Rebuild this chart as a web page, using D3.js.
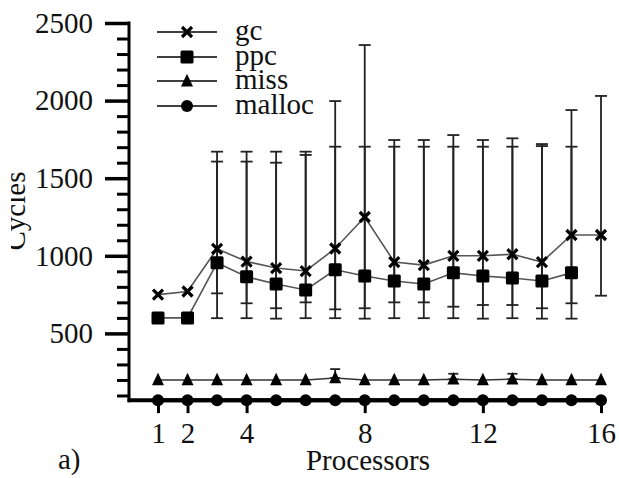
<!DOCTYPE html>
<html>
<head>
<meta charset="utf-8">
<script src="https://cdn.jsdelivr.net/npm/d3@7"></script>
<style>
  html, body { margin: 0; padding: 0; background: #fff; }
  svg { display: block; }
</style>
</head>
<body>
<div id="chart"></div>
<script>
// ---- data ----
const processors = [1, 2, 3, 4, 5, 6, 7, 8, 9, 10, 11, 12, 13, 14, 15, 16];
const gc     = [750, 770, 1045, 963, 921, 902, 1047, 1250, 960, 940, 1000, 1000, 1010, 960, 1134, 1134];
const gcHi   = [null, null, 1671, 1671, 1671, 1671, 1997, 2358, 1746, 1746, 1778, 1746, 1757, 1720, 1939, 2030];
const gcLo   = [null, null, 758, 694, 662, 700, 655, 662, 700, 700, 672, 683, 683, 662, 694, 743];
const ppc    = [600, 600, 955, 865, 818, 780, 910, 870, 838, 818, 890, 870, 857, 838, 890];
const ppcHi  = [null, null, 1607, 1607, 1600, 1650, 1703, 1703, 1703, 1703, 1703, 1703, 1703, 1707, 1703];
const ppcLo  = [null, null, 598, 598, 595, 598, 598, 595, 598, 598, 598, 595, 598, 595, 595];
const miss   = [200, 200, 200, 200, 200, 200, 213, 200, 200, 200, 205, 200, 205, 200, 200, 200];
const missHi = [null, null, null, null, null, null, 270, null, null, null, 240, null, 240, null, null, null];
const malloc = [70, 70, 70, 70, 70, 70, 70, 70, 70, 70, 70, 70, 70, 70, 70, 70];
const xTicks = [1, 2, 4, 8, 12, 16];
const yMajor = [500, 1000, 1500, 2000, 2500];
const yMinor = d3.range(100, 2500, 100).filter(v => v % 500 !== 0);
const seriesNames = ["gc", "ppc", "miss", "malloc"];

// ---- pick an installed serif face ----
function pickFont(cands) {
  const c = document.createElement("canvas").getContext("2d");
  const probe = "Processors 1234567890 gcppcmissmalloc";
  for (const f of cands) {
    let differs = false;
    for (const fb of ["monospace", "sans-serif"]) {
      c.font = `40px ${fb}`; const w0 = c.measureText(probe).width;
      c.font = `40px "${f}", ${fb}`; const w1 = c.measureText(probe).width;
      if (Math.abs(w0 - w1) > 0.5) differs = true; else { differs = false; break; }
    }
    if (differs) return `"${f}"`;
  }
  return "serif";
}
const FONT = pickFont(["Liberation Serif", "Times New Roman", "Tinos", "Times", "DejaVu Serif", "Noto Serif", "FreeSerif"]);

// ---- layout ----
const W = 619, H = 478;
const yBase = 70;                       // value where the x axis sits
const x = d3.scaleLinear().domain([1, 16]).range([158, 601]);
const y = d3.scaleLinear().domain([0, 2500]).range([411, 23]);
const FS = 29;

const svg = d3.select("#chart").append("svg").attr("width", W).attr("height", H)
  .style("font-family", FONT);

// y axis: minor ticks
const axisX = 129;
const gMinor = svg.append("g").attr("transform", `translate(${axisX},0)`)
  .call(d3.axisLeft(y).tickValues(yMinor).tickSize(12).tickFormat(""));
gMinor.select(".domain").remove();
gMinor.selectAll(".tick line").attr("stroke", "#000").attr("stroke-width", 3);

const gMajor = svg.append("g").attr("transform", `translate(${axisX},0)`)
  .call(d3.axisLeft(y).tickValues(yMajor).tickSize(24).tickPadding(12).tickFormat(d3.format("d")));
gMajor.attr("font-family", null).attr("font-size", null);
gMajor.select(".domain").remove();
gMajor.selectAll(".tick line").attr("stroke", "#000").attr("stroke-width", 3.5);
gMajor.selectAll(".tick text").style("font-family", FONT).attr("font-size", FS).attr("fill", "#111");

svg.append("line").attr("x1", axisX).attr("x2", axisX)
  .attr("y1", y(2500) - 1.5).attr("y2", y(yBase) + 2)
  .attr("stroke", "#000").attr("stroke-width", 3);

// x axis
const gX = svg.append("g").attr("transform", `translate(0,${y(yBase)})`)
  .call(d3.axisBottom(x).tickValues(xTicks).tickSize(13).tickFormat(d3.format("d")));
gX.attr("font-family", null).attr("font-size", null);
gX.select(".domain").remove();
gX.selectAll(".tick line").attr("stroke", "#000").attr("stroke-width", 3);
gX.selectAll(".tick text").style("font-family", FONT).attr("font-size", FS)
  .attr("fill", "#111").attr("y", 43).attr("dy", 0);

svg.append("line").attr("x1", axisX - 1.5).attr("x2", x(16) + 2)
  .attr("y1", y(yBase)).attr("y2", y(yBase))
  .attr("stroke", "#000").attr("stroke-width", 4);

// axis titles
svg.append("text").attr("x", 368).attr("y", 470).attr("text-anchor", "middle")
  .attr("font-size", FS).attr("fill", "#111").text("Processors");
svg.append("text").attr("x", 58).attr("y", 469).attr("font-size", FS).attr("fill", "#111").text("a)");
svg.append("clipPath").attr("id", "leftclip").append("rect")
  .attr("x", 11).attr("y", 0).attr("width", 100).attr("height", H);
svg.append("g").attr("clip-path", "url(#leftclip)")
  .append("text").attr("transform", "translate(25,211) rotate(-90)")
  .attr("text-anchor", "middle").attr("font-size", FS).attr("fill", "#111").text("Cycles");

// marker helpers
function cross(g, cx, cy, r) {
  g.append("path").attr("d", `M${cx - r},${cy - r}L${cx + r},${cy + r}M${cx - r},${cy + r}L${cx + r},${cy - r}`)
    .attr("stroke", "#000").attr("stroke-width", 3.2).attr("fill", "none");
}
function square(g, cx, cy, s) {
  g.append("rect").attr("x", cx - s / 2).attr("y", cy - s / 2).attr("width", s).attr("height", s)
    .attr("rx", 1.5).attr("fill", "#000");
}
function tri(g, cx, cy, s) {
  g.append("path").attr("d", `M${cx},${cy - s * 0.6}L${cx + s / 2},${cy + s * 0.45}L${cx - s / 2},${cy + s * 0.45}Z`)
    .attr("fill", "#000");
}
function dot(g, cx, cy, r) {
  g.append("circle").attr("cx", cx).attr("cy", cy).attr("r", r).attr("fill", "#000");
}

// error bars
const gErr = svg.append("g");
function errBar(xi, lo, hi, capW) {
  if (lo == null || hi == null) return;
  const px = x(xi);
  gErr.append("line").attr("x1", px).attr("x2", px).attr("y1", y(lo)).attr("y2", y(hi))
    .attr("stroke", "#222").attr("stroke-width", 1.8);
  [lo, hi].forEach(v => gErr.append("line").attr("x1", px - capW / 2).attr("x2", px + capW / 2)
    .attr("y1", y(v)).attr("y2", y(v)).attr("stroke", "#222").attr("stroke-width", 1.8));
}
processors.forEach((p, i) => {
  errBar(p, gcLo[i], gcHi[i], 12);
  if (i < ppc.length) errBar(p, ppcLo[i], ppcHi[i], 12);
  if (missHi[i] != null) errBar(p, miss[i], missHi[i], 10);
});

// lines
const line = d3.line().x(d => x(d[0])).y(d => y(d[1]));
const gcPts = processors.map((p, i) => [p, gc[i]]);
const ppcPts = ppc.map((v, i) => [processors[i], v]);
const missPts = processors.map((p, i) => [p, miss[i]]);
const mallocPts = processors.map((p, i) => [p, malloc[i]]);
svg.append("path").attr("d", line(gcPts)).attr("fill", "none").attr("stroke", "#555").attr("stroke-width", 1.6);
svg.append("path").attr("d", line(ppcPts)).attr("fill", "none").attr("stroke", "#555").attr("stroke-width", 1.6);
svg.append("path").attr("d", line(missPts)).attr("fill", "none").attr("stroke", "#333").attr("stroke-width", 1.5);
svg.append("path").attr("d", line(mallocPts)).attr("fill", "none").attr("stroke", "#000").attr("stroke-width", 4);

// markers
const gM = svg.append("g");
gcPts.forEach(d => cross(gM, x(d[0]), y(d[1]), 5));
ppcPts.forEach(d => square(gM, x(d[0]), y(d[1]), 13));
missPts.forEach(d => tri(gM, x(d[0]), y(d[1]), 12));
mallocPts.forEach(d => dot(gM, x(d[0]), y(d[1]), 6));

// legend
const legY = [32, 57, 81, 106];
const gL = svg.append("g");
seriesNames.forEach((name, i) => {
  const cy = legY[i];
  gL.append("line").attr("x1", 157).attr("x2", 217).attr("y1", cy).attr("y2", cy)
    .attr("stroke", "#000").attr("stroke-width", 1.5);
  if (i === 0) cross(gL, 187, cy, 5);
  if (i === 1) square(gL, 187, cy, 13);
  if (i === 2) tri(gL, 187, cy, 12);
  if (i === 3) dot(gL, 187, cy, 6);
  gL.append("text").attr("x", 235).attr("y", cy + 7.5).attr("font-size", FS).attr("fill", "#111").text(name);
});
</script>
</body>
</html>
